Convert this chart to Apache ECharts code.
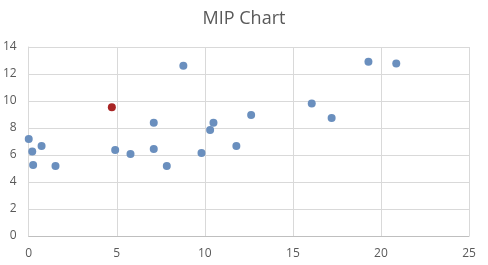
<!DOCTYPE html>
<html><head><meta charset="utf-8">
<script src="https://cdn.jsdelivr.net/npm/echarts@6/dist/echarts.min.js"></script>
<style>html,body{margin:0;padding:0;background:#fff}#c{width:488px;height:265px}</style>
</head><body><div id="c"></div>
<script>
const titleText = "MIP Chart";
const xs = [0, 0.2, 0.73, 0.25, 1.52, 4.91, 5.78, 7.1, 7.1, 7.84, 8.78, 9.81, 10.3, 10.49, 11.79, 12.63, 16.07, 17.2, 19.29, 20.87];
const ys = [7.19, 6.26, 6.67, 5.26, 5.18, 6.37, 6.07, 8.38, 6.45, 5.18, 12.62, 6.15, 7.86, 8.38, 6.67, 8.97, 9.81, 8.75, 12.91, 12.77];
const highlightX = [4.72];
const highlightY = [9.54];
const xTicks = [0, 5, 10, 15, 20, 25];
const yTicks = [0, 2, 4, 6, 8, 10, 12, 14];

const chart = echarts.init(document.getElementById('c'), null, {renderer:'canvas'});
const font = "'Open Sans', 'Liberation Sans', sans-serif";
chart.setOption({
  animation:false,
  title:{text:titleText,left:'center',top:5,textStyle:{fontFamily:font,fontSize:18,fontWeight:'normal',color:'#595959'}},
  grid:{left:27,right:19,top:47,bottom:29,containLabel:false},
  xAxis:{type:'value',min:xTicks[0],max:xTicks[xTicks.length-1],interval:5,
    axisLine:{show:true,lineStyle:{color:'#bfbfbf'}},axisTick:{show:false},
    axisLabel:{color:'#595959',fontFamily:font,fontSize:12,margin:12},
    splitLine:{show:true,lineStyle:{color:'#d9d9d9'}}},
  yAxis:{type:'value',min:yTicks[0],max:yTicks[yTicks.length-1],interval:2,
    axisLine:{show:true,lineStyle:{color:'#d9d9d9'}},axisTick:{show:false},
    axisLabel:{color:'#595959',fontFamily:font,fontSize:12,margin:12},
    splitLine:{show:true,lineStyle:{color:'#d9d9d9'}}},
  series:[
    {type:'scatter',symbolSize:8,data:xs.map((x,i)=>[x,ys[i]]),itemStyle:{color:'#6a8fbe',opacity:1}},
    {type:'scatter',symbolSize:8,data:highlightX.map((x,i)=>[x,highlightY[i]]),itemStyle:{color:'#a82424',opacity:1}}
  ]
});
</script></body></html>
